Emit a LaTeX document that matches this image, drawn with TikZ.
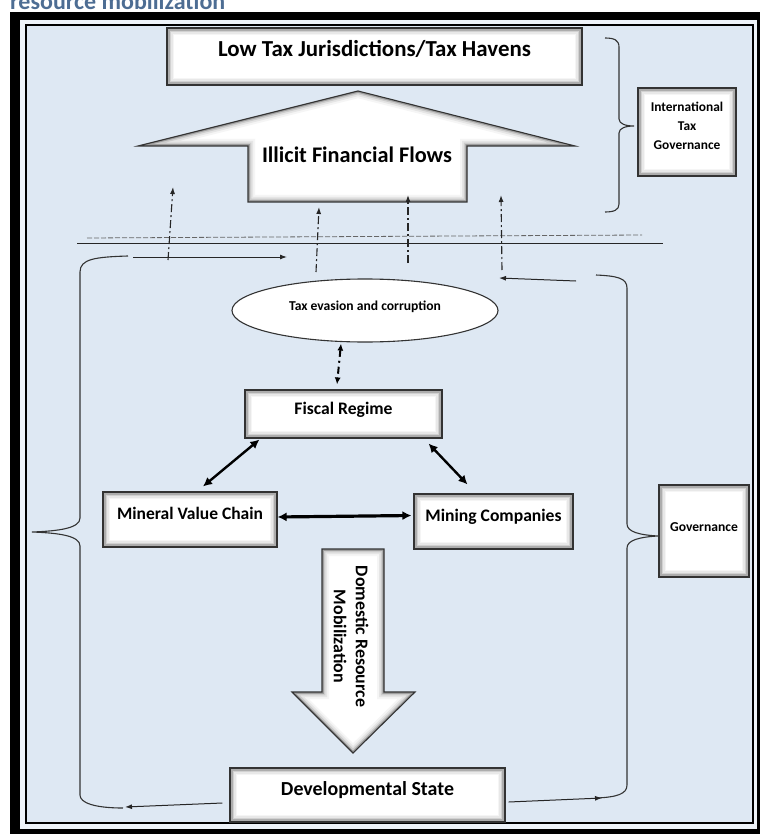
\documentclass[tikz,border=0pt]{standalone}
\usepackage{fontspec}
\setmainfont{Carlito}
\usetikzlibrary{arrows.meta,shapes.geometric,calc}
\definecolor{bgblue}{HTML}{DEE8F3}
\definecolor{bandblue}{HTML}{EEF3F9}
\definecolor{titleblue}{HTML}{4D6D93}
\pgfdeclareradialshading{ellglow}{\pgfpoint{0bp}{0bp}}{color(0bp)=(white); color(33bp)=(white); color(43bp)=(black!14); color(50bp)=(black!52)}
\newcommand{\glowshape}[1]{%
  \fill[white] #1;
  \begin{scope}
    \clip #1;
    \draw[line width=14pt,black!4] #1;
    \draw[line width=10pt,black!10] #1;
    \draw[line width=6.5pt,black!20] #1;
    \draw[line width=3.5pt,black!38] #1;
  \end{scope}
  \draw[black!80,line width=1.1pt] #1;}
\tikzset{
  box/.style={draw=black!80, line width=1.1pt, fill=white, inner sep=0pt,
    text height=0pt, text depth=0pt,
    path picture={
      \foreach \o/\c in {0.7/50,2.1/32,3.5/18,4.9/9,6.3/4}{
        \draw[line width=1.5pt, black!\c]
          ([xshift=\o pt, yshift=\o pt]path picture bounding box.south west) rectangle
          ([xshift=-\o pt, yshift=-\o pt]path picture bounding box.north east);}}},
  txt/.style={inner sep=0pt, font=\bfseries},
  thin arrow/.style={line width=1pt, black!85, -{Latex[length=7pt,width=5pt]}},
  dashdot arrow/.style={line width=1.1pt, black!85, dash pattern=on 8pt off 3pt on 2pt off 3pt, -{Latex[length=7pt,width=5pt]}},
  thick arrow/.style={line width=2.4pt, black, {Latex[length=9pt,width=9pt]}-{Latex[length=9pt,width=9pt]}},
  brace line/.style={line width=1.1pt, black!80},
}
\begin{document}
\begin{tikzpicture}[x=1pt,y=-1pt]
\useasboundingbox (0,0) rectangle (760,834);
% frame
\fill[black] (10,12) rectangle (760,834);
\fill[bandblue] (20,20) rectangle (757,829);
\filldraw[fill=bgblue, draw=black, line width=2pt] (25.5,25.5) rectangle (753,823);
% title (cut off at the top, as in the source)
\node[txt, anchor=base west, text=titleblue, font=\bfseries\fontsize{24}{24}\selectfont] (title) at (10,10) {resource mobilization};

% separating lines
\coordinate (dl1) at (87,238); \coordinate (dl2) at (642,235);
\coordinate (sl1) at (77,243); \coordinate (sl2) at (663,243);
\draw[black!60, line width=0.8pt, dash pattern=on 5pt off 2pt] (dl1) -- (dl2);
\draw[black!85, line width=1pt] (sl1) -- (sl2);

% block arrows
\def\iffpath{(248,202) -- (248,146) -- (138,146) -- (358,91) -- (575,146) -- (467,146) -- (467,202) -- cycle}
\def\drmpath{(322,549) -- (384,549) -- (384,692) -- (415,692) -- (353,753) -- (292,692) -- (322,692) -- cycle}
\glowshape{\iffpath}
\glowshape{\drmpath}
\node[txt, font=\bfseries\fontsize{22.3}{24}\selectfont] (iff) at (357,155) {Illicit Financial Flows};
\node[txt, rotate=-90, align=center, font=\bfseries\fontsize{17.9}{22}\selectfont] (drm) at (351,636.5) {Domestic Resource\\Mobilization};

% boxes
\node[box, minimum width=415pt, minimum height=57pt, font=\bfseries\fontsize{22.9}{24}\selectfont] (lt) at (374.5,56.5) {Low Tax Jurisdictions/Tax Havens};
\node[box, minimum width=98pt, minimum height=88pt, text height=, text depth=] (itg) at (687,132)
  {\raisebox{5pt}[\height][\depth]{\fontsize{13.4}{19}\selectfont\bfseries\begin{tabular}{@{}c@{}}International\\Tax\\Governance\end{tabular}}};
\node[box, minimum width=90pt, minimum height=92pt, font=\bfseries\fontsize{13.6}{16}\selectfont] (gov) at (704,531) {Governance};
\node[box, minimum width=197pt, minimum height=48pt, font=\bfseries\fontsize{17.6}{20}\selectfont] (fr) at (343.5,414) {Fiscal Regime};
\node[box, minimum width=174pt, minimum height=55pt, font=\bfseries\fontsize{17.5}{20}\selectfont] (mvc) at (190,519.5) {Mineral Value Chain};
\node[box, minimum width=159pt, minimum height=55pt, font=\bfseries\fontsize{17.6}{20}\selectfont] (mc) at (493.5,521.5) {Mining Companies};
\node[box, minimum width=275pt, minimum height=54pt, font=\bfseries\fontsize{19.9}{22}\selectfont] (ds) at (367.5,795) {Developmental State};
\node[ellipse, draw=black!80, line width=1.1pt, shading=ellglow, inner sep=0pt, minimum width=266pt, minimum height=63pt,
  text height=0pt, text depth=0pt, font=\bfseries\fontsize{13.6}{16}\selectfont] (te) at (365,310.5) {Tax evasion and corruption};

% braces
\draw[brace line] (128,256) .. controls (95,257) and (80,259) .. (80,272) -- (80,518)
  .. controls (80,528) and (60,531) .. (32,532) .. controls (60,533) and (80,536) .. (80,546)
  -- (80,795) .. controls (80,803) and (95,808) .. (123,808);
\draw[brace line] (596,275) .. controls (617,276) and (627,278) .. (627,288) -- (627,524)
  .. controls (627,532) and (640,535) .. (658,536) .. controls (640,537) and (627,540) .. (627,548)
  -- (627,785) .. controls (627,794) and (617,797) .. (597,798);
\draw[brace line] (605,38) .. controls (614,38) and (619,40) .. (619,47) -- (619,119)
  .. controls (619,124) and (626,126) .. (634,126) .. controls (626,126) and (619,128) .. (619,133)
  -- (619,204) .. controls (619,210) and (614,212) .. (605,212);

% vertical dash-dot arrows (outflows)
\coordinate (v1a) at (168,260); \coordinate (v1b) at (173,187);
\coordinate (v2a) at (316,272); \coordinate (v2b) at (319,207);
\coordinate (v3a) at (408,263); \coordinate (v3b) at (408,195);
\coordinate (v4a) at (502,270); \coordinate (v4b) at (501,195);
\draw[dashdot arrow] (v1a) -- (v1b);
\draw[dashdot arrow] (v2a) -- (v2b);
\draw[dashdot arrow] (v3a) -- (v3b);
\draw[dashdot arrow] (v4a) -- (v4b);

% horizontal thin arrows
\coordinate (h1a) at (133,257); \coordinate (h1b) at (287,257);
\coordinate (h2a) at (576,281); \coordinate (h2b) at (499,278);
\coordinate (h3b) at (125,807);
\coordinate (h4b) at (602,798);
\draw[thin arrow] (h1a) -- (h1b);
\draw[thin arrow] (h2a) -- (h2b);
\draw[thin arrow] ($(ds.west)+(-7,8)$) -- (h3b);
\draw[thin arrow] ($(ds.east)+(3,7)$) -- (h4b);

% tax evasion <-> fiscal regime
\draw[line width=2pt, black, dash pattern=on 7pt off 4pt on 2pt off 4pt, {Latex[length=7pt,width=6pt]}-{Latex[length=7pt,width=6pt]}]
  ($(te.south)+(-24,1)$) -- ($(fr.north)+(-6.5,-5)$);

% thick double arrows
\draw[thick arrow] ($(fr.south west)+(15,1)$) -- ($(mvc.north)+(13,-5)$);
\draw[thick arrow] ($(fr.south east)+(-14,5)$) -- ($(mc.north)+(-26,-9)$);
\draw[thick arrow, line width=3.2pt] ($(mvc.east)+(0,-2.5)$) -- ($(mc.west)+(-2,-6)$);
\end{tikzpicture}
\end{document}
